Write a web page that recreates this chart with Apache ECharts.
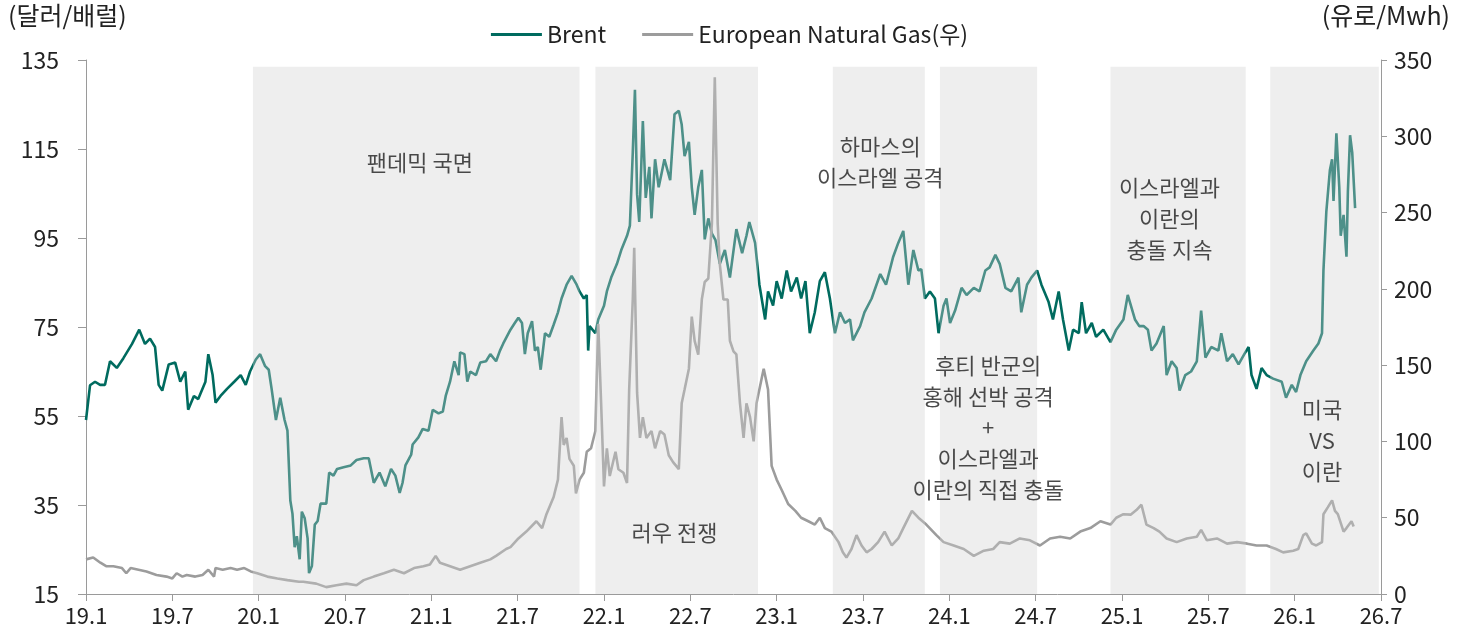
<!DOCTYPE html>
<html><head><meta charset="utf-8">
<script src="https://cdn.jsdelivr.net/npm/echarts@6/dist/echarts.min.js"></script>
<style>html,body{margin:0;padding:0;background:#fff}#c{width:1459px;height:634px}</style>
</head><body><div id="c"></div>
<script>
// x values: months since Jan 2019 (0 = 19.1, 90 = 26.7)
const brentMonth = [0,0.28,0.63,0.98,1.32,1.67,2.14,2.6,3.2,3.7,4.1,4.45,4.8,5.05,5.3,5.75,6.2,6.55,6.9,7.1,7.5,7.8,8.3,8.5,8.8,9.0,9.35,9.8,10.3,10.75,11.1,11.4,11.8,12.1,12.45,12.7,12.9,13.2,13.5,13.8,14.0,14.2,14.35,14.5,14.65,14.85,15.0,15.2,15.4,15.5,15.7,15.9,16.1,16.3,16.7,16.9,17.2,17.45,17.9,18.4,18.8,19.3,19.65,20.0,20.4,20.8,21.2,21.5,21.8,22.0,22.2,22.6,22.7,23.1,23.4,23.8,24.1,24.5,24.8,25.0,25.3,25.6,25.9,26.0,26.3,26.5,26.7,27.1,27.4,27.8,28.1,28.5,28.77,29.0,29.5,29.8,30.05,30.3,30.5,30.7,31.0,31.2,31.4,31.6,31.9,32.2,32.5,32.8,33.05,33.4,33.75,34.1,34.3,34.6,34.8,34.9,35.0,35.4,35.6,36.0,36.2,36.5,36.9,37.2,37.6,37.8,38.0,38.15,38.3,38.45,38.7,38.9,39.15,39.3,39.55,39.8,40.0,40.2,40.6,40.9,41.2,41.4,41.6,41.9,42.1,42.3,42.55,42.8,43.0,43.25,43.5,43.75,44.05,44.4,44.75,45.2,45.6,45.9,46.1,46.5,46.8,47.2,47.4,47.75,48.0,48.35,48.7,49.0,49.4,49.7,50.0,50.3,50.65,51.0,51.35,51.7,52.05,52.4,52.75,53.1,53.3,53.8,54.1,54.6,55.2,55.6,56.1,56.45,56.8,57.15,57.5,57.85,58.05,58.3,58.65,59.0,59.25,59.6,59.8,60.05,60.4,60.85,61.2,61.7,62.1,62.5,62.8,63.2,63.5,63.9,64.3,64.8,65.0,65.4,65.7,66.1,66.4,66.9,67.2,67.6,67.9,68.3,68.6,69.0,69.2,69.5,69.9,70.2,70.7,71.2,71.6,72.1,72.4,72.9,73.2,73.5,73.8,74.05,74.4,74.9,75.1,75.45,75.8,76.0,76.4,76.8,77.2,77.5,77.8,78.2,78.7,78.9,79.3,79.7,80.1,80.5,80.8,81.0,81.35,81.7,82.05,82.5,83.1,83.4,83.8,84.1,84.4,84.8,85.3,85.65,85.9,86.0,86.2,86.45,86.6,86.7,86.9,87.1,87.2,87.4,87.6,87.7,87.85,88.0,88.2];
const brentPrice = [54.1,61.9,62.7,62,62,67.3,65.8,68,71.2,74.4,71.2,72.4,70.5,62,60.7,66.6,67,62.7,65,56.4,59.5,58.8,62.7,68.9,64.2,58,59.5,61.1,62.7,64.2,62,65,67.7,68.9,66.2,65.4,61.1,54.1,59.1,54.1,51.7,36,33,25.5,28,22.8,33.5,32,27.5,19.7,21.3,30.6,31.4,35.3,35.3,42.3,41.6,43.1,43.5,43.9,45.1,45.5,45.5,40,42.3,39.2,43.1,41.6,37.7,40,43.9,46.3,48.6,50.2,52.1,51.7,56.4,55.6,56,59.5,62.7,67.3,64.2,69.3,68.9,62.7,65,64.2,67,67.3,68.9,67.3,69.7,71.3,74.4,75.9,77.1,75.9,68.9,73.6,76.3,69.7,70.5,65.4,73.6,72.8,75.5,78.3,81.4,84.5,86.5,84.5,83,81.4,82.2,69.7,75.2,73.6,76.7,79.8,83,86.1,89.2,92.3,95.5,97.8,114.2,128.3,104.8,98.6,121.3,104,111,99.4,112.7,106.4,109.5,112.7,108,122.8,123.6,120.5,113.4,116.6,106.4,100.2,106.4,110.3,94.7,99.4,96,94.5,89.2,92.3,86.1,97,91.6,95.5,98.6,93.9,84.5,76.7,83,79.8,85.3,81.4,87.7,83,86.1,81.4,85.3,73.6,78.3,85.3,87.3,81.4,73.6,78.3,75.9,76.7,72,75.2,78.3,81.4,86.9,84.5,90.8,93.9,96.6,84.5,92.3,87.7,88,81.4,83,81.4,73.6,79.8,81.4,75.9,78.7,83.8,82.2,83.8,83,87.7,88.4,91.2,89.2,83.8,83,86.1,78.3,84.5,86.1,87.7,84.5,80.6,76.7,83,76.7,69.7,74.4,73.6,80.6,73.6,75.9,72.8,74.4,71.6,74.4,76.7,82.2,76.7,75.2,75.2,74.4,69.7,71.3,75.2,64.2,67.3,65.8,60.7,64.2,65,67.3,78.7,68.1,70.5,69.7,73.6,67.3,68.9,66.6,68.9,70.5,64.2,61.1,65.8,64.2,63.4,62.7,59.1,62,60.4,64.2,67.3,69.7,71.3,73.6,87.7,100.9,110.3,112.7,103.3,118.5,106.4,95.5,100.2,90.8,105.6,118.1,114.2,101.7];

const gasMonth = [0,0.5,1.0,1.4,1.9,2.5,2.8,3.1,3.65,4.2,4.9,5.6,6.0,6.3,6.7,7.0,7.6,8.1,8.5,8.9,9.0,9.5,10.05,10.5,11.0,11.45,11.9,12.6,13.3,14.0,14.8,15.1,16.0,16.7,17.4,18.1,18.8,19.3,20.0,20.7,21.4,22.1,22.8,23.45,23.9,24.3,24.6,25.3,26.0,26.7,27.4,28.1,28.5,29.2,29.5,30.05,30.6,31.3,31.7,32.0,32.5,32.8,33.05,33.2,33.4,33.6,33.9,34.05,34.3,34.6,34.8,35.1,35.4,35.5,35.6,35.8,36.0,36.2,36.4,36.8,37.0,37.35,37.6,37.75,38.0,38.1,38.3,38.5,38.7,38.95,39.3,39.55,39.9,40.2,40.5,40.8,41.2,41.4,41.6,41.9,42.1,42.3,42.55,42.8,43.0,43.25,43.5,43.7,43.9,44.05,44.3,44.6,44.75,45.0,45.2,45.45,45.7,45.9,46.15,46.4,46.6,47.0,47.1,47.4,47.65,48.0,48.35,48.8,49.3,49.7,50.2,50.65,51.0,51.35,51.8,52.3,52.6,52.85,53.2,53.55,53.9,54.25,54.6,55.05,55.5,56.0,56.45,56.8,57.4,57.85,58.4,59.1,59.6,60.3,61.0,61.7,62.4,63.05,63.5,64.2,64.9,65.6,66.3,67.0,67.7,68.4,69.1,69.8,70.5,71.2,71.6,72.1,72.6,73.0,73.35,73.7,74.2,74.6,75.1,75.8,76.5,77.2,77.5,77.9,78.6,79.3,80.0,80.7,81.35,82.05,82.7,83.2,83.9,84.25,84.6,84.8,85.2,85.5,85.9,86.0,86.3,86.6,86.8,87.0,87.4,87.6,87.95,88.1];
const gasPrice = [22.7,23.9,20.5,18.2,18.2,17,13.6,17,15.9,14.8,12.5,11.4,10.2,13.6,11.4,12.5,11.4,12.5,15.9,11.4,17,15.9,17,15.9,17,14.8,13.6,11.4,10.2,9.1,8,8,6.8,4.5,5.7,6.8,5.7,9.1,11.4,13.6,15.9,13.6,17,18.2,19.3,25,20.5,18.2,15.9,18.2,20.5,22.7,25,29.5,30.7,36.4,40.9,47.7,43.2,52.3,63.6,75,115.9,97.7,102.3,88.6,84.1,65.9,75,79.5,93.2,95.5,106.8,143,177,125,70.5,95.5,77.3,93.2,81.8,79.5,72.7,134,193,227,131.8,102.3,115.9,102.3,106.8,95.5,106.8,104.5,90.9,86.4,81.8,125,134,147.7,181.8,165.9,156.8,193.2,204.5,206.8,243,338.6,243,216,193,193,166,159,157,125,102.3,125,115.9,100,125,143.2,147.7,134,84,75,68.2,59,54.5,50,47.7,45.5,50,43.2,40.9,34,27.3,23.9,29.5,38.6,31.8,27.3,29.5,34,40.9,31.8,36.4,43.2,54.5,50,45.5,38.6,34,31.8,29.5,25,28.4,29.5,34,33,36.4,35.2,31.8,36.4,37.5,36.4,40.9,43.2,47.7,45.5,50,52.3,52,55,58.5,45.5,43.2,40.9,36.4,34,36.4,37.5,42,35.2,36.4,33,34,33,31.8,31.8,29.5,27.3,28.4,29.5,38.6,39.8,33,31.8,34,52.3,56.8,61.4,54.5,52.3,40.9,43.2,47.7,44.3];

const xTickLabels = ['19.1','19.7','20.1','20.7','21.1','21.7','22.1','22.7','23.1','23.7','24.1','24.7','25.1','25.7','26.1','26.7'];

const shadeStart = [11.6, 35.4, 51.9, 59.35, 71.2, 82.3];
const shadeEnd   = [34.3, 46.7, 58.3, 66.1, 80.6, 89.85];

const annoText = ['팬데믹 국면','러우 전쟁','하마스의\n이스라엘 공격','후티 반군의\n홍해 선박 공격\n+\n이스라엘과\n이란의 직접 충돌','이스라엘과\n이란의\n충돌 지속','미국\nVS\n이란'];
const annoX = [23.2, 40.9, 55.2, 62.7, 75.3, 85.9];
const annoY = [111.9, 28.7, 112.0, 52.3, 99.3, 49.4];

const FONT = "'Noto Sans CJK KR', 'Noto Sans', sans-serif";
const brentData = brentMonth.map((m,i)=>[m, brentPrice[i]]);
const gasData = gasMonth.map((m,i)=>[m, gasPrice[i]]);
const areas = shadeStart.map((s,i)=>[{xAxis:s, yAxis:15},{xAxis:shadeEnd[i], yAxis:133.5}]);
const annoData = annoX.map((x,i)=>({value:[x, annoY[i]], name:annoText[i]}));

const chart = echarts.init(document.getElementById('c'), null, {renderer:'canvas'});
chart.setOption({
  animation:false,
  textStyle:{fontFamily:FONT},
  grid:{left:86, right:78, top:60, bottom:40, containLabel:false},
  legend:{
    top:18, left:'center', icon:'rect', itemWidth:51, itemHeight:3, itemGap:36,
    data:['Brent','European Natural Gas(우)'],
    textStyle:{fontSize:23, color:'#222', fontFamily:FONT}
  },
  graphic:[
    {type:'text', left:8, top:3, style:{text:'(달러/배럴)', fontSize:25, fill:'#222', fontFamily:FONT}},
    {type:'text', right:9, top:3, style:{text:'(유로/Mwh)', fontSize:25, fill:'#222', fontFamily:FONT}}
  ],
  xAxis:{
    type:'value', min:0, max:90, interval:6,
    splitLine:{show:false},
    axisLine:{lineStyle:{color:'#9a9a9a', width:1}},
    axisTick:{show:true, length:7, lineStyle:{color:'#9a9a9a'}},
    axisLabel:{fontSize:22, color:'#222', margin:11, formatter:v=>xTickLabels[Math.round(v/6)]}
  },
  yAxis:[
    {type:'value', min:15, max:135, interval:20, position:'left',
     splitLine:{show:false},
     axisLine:{show:true, lineStyle:{color:'#9a9a9a'}},
     axisTick:{show:true, length:8, lineStyle:{color:'#9a9a9a'}},
     axisLabel:{fontSize:23, color:'#222', margin:27}},
    {type:'value', min:0, max:350, interval:50, position:'right',
     splitLine:{show:false},
     axisLine:{show:true, lineStyle:{color:'#9a9a9a'}},
     axisTick:{show:true, length:6, lineStyle:{color:'#9a9a9a'}},
     axisLabel:{fontSize:23, color:'#222', margin:13}}
  ],
  series:[
    {name:'Brent', type:'line', yAxisIndex:0, data:brentData, showSymbol:false, symbol:'none', z:2,
     lineStyle:{color:'#006b5f', width:2.6}, itemStyle:{color:'#006b5f'}},
    {name:'European Natural Gas(우)', type:'line', yAxisIndex:1, data:gasData, showSymbol:false, symbol:'none', z:3,
     lineStyle:{color:'#9c9c9c', width:2.6}, itemStyle:{color:'#9c9c9c'}},
    {name:'shade', type:'line', yAxisIndex:0, data:[], zlevel:1, z:5, silent:true,
     markArea:{silent:true, z:10, zlevel:1, itemStyle:{color:'rgba(210,210,210,0.37)'}, data:areas}},
    {name:'notes', type:'scatter', yAxisIndex:0, data:annoData, symbolSize:0, zlevel:2, z:8, silent:true,
     label:{show:true, position:'inside', formatter:p=>p.name, fontSize:22, lineHeight:31, color:'#1e1e1e', align:'center', fontFamily:FONT}}
  ]
});
</script></body></html>
